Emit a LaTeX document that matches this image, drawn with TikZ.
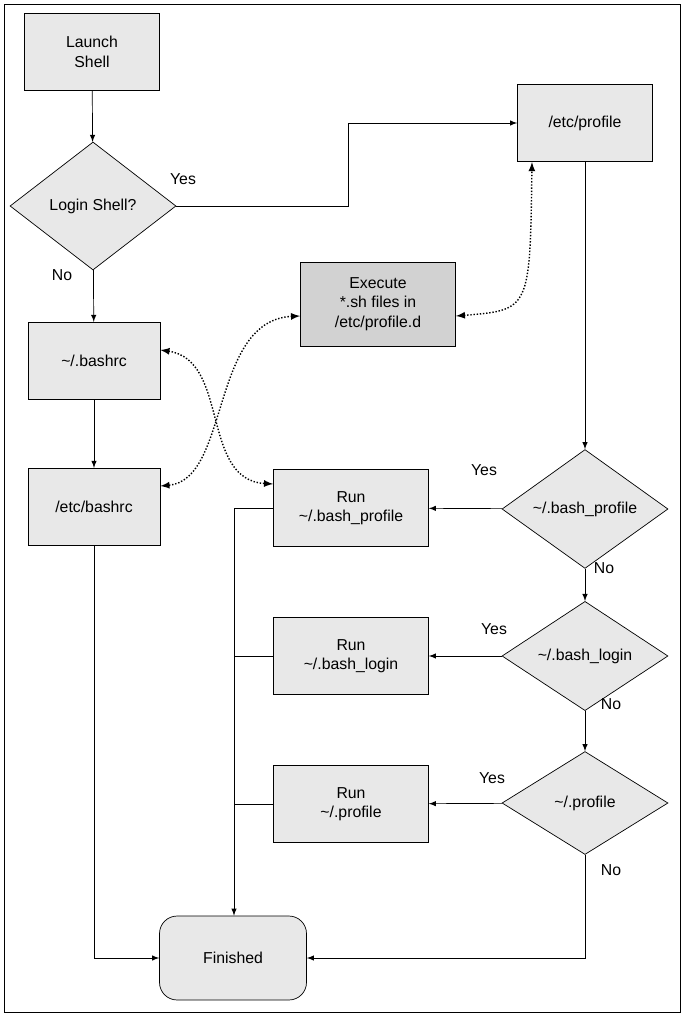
\documentclass[tikz,border=0pt]{standalone}
\usepackage{fontspec}
\setmainfont{Liberation Sans}
\usetikzlibrary{arrows,positioning,shapes}
\begin{document}
\begin{tikzpicture}[x=0.02cm,y=-0.02cm,>=latex,font=\fontsize{9}{11}\selectfont]
	\tikzstyle{rect}=[draw, rectangle, fill=gray!18, text centered, align=center, minimum width=2.7cm, minimum height=1.55cm]
	\tikzstyle{rect_w}=[rect, minimum width=3.1cm]
	\tikzstyle{dec}=[draw, diamond, fill=gray!18, inner sep=0pt, minimum width=3.32cm, minimum height=1.95cm]
	\tikzstyle{dots}=[<->, densely dotted, thick]

	\useasboundingbox (0,0) rectangle (685,1016);
	\draw (4,4) rectangle (680,1012);

	\node[rect] (launch) at (92,52) {Launch\\Shell};
	\node[dec, minimum height=2.56cm] (login) at (93,206) {Login Shell?};
	\node[rect] (prof) at (585,123) {/etc/profile};
	\node[rect_w, fill=gray!35, minimum height=1.68cm] (exec) at (378,304) {Execute\\*.sh files in\\/etc/profile.d};
	\node[rect, minimum width=2.64cm] (bashrc) at (94,361) {\textasciitilde/.bashrc};
	\node[rect, minimum width=2.64cm] (ebashrc) at (94,507) {/etc/bashrc};
	\node[rect_w] (rbp) at (351,508) {Run\\\textasciitilde/.bash\_profile};
	\node[dec] (dbp) at (585,509) {\textasciitilde/.bash\_profile};
	\node[rect_w] (rbl) at (351,656) {Run\\\textasciitilde/.bash\_login};
	\node[dec, minimum height=2.1cm] (dbl) at (585,656) {\textasciitilde/.bash\_login};
	\node[rect_w] (rpr) at (351,804) {Run\\\textasciitilde/.profile};
	\node[dec, minimum height=2.06cm] (dpr) at (585,803) {\textasciitilde/.profile};
	\node[draw, rounded corners=10pt, fill=gray!18, minimum width=2.94cm, minimum height=1.68cm] (fin) at (233,958) {Finished};
	\coordinate (join) at (234,508);

	\draw[->] (launch) -- (login);
	\draw[->] (login.east) -- (348,206) |- (prof.west);
	\draw[->] (login) -- (bashrc);
	\draw[->] (bashrc) -- (ebashrc);
	\draw[->] (prof) -- (dbp);
	\draw[->] (dbp) -- (rbp);
	\draw[->] (dbp) -- (dbl);
	\draw[->] (dbl) -- (rbl);
	\draw[->] (dbl) -- (dpr);
	\draw[->] (dpr) -- (rpr);
	\draw[->] (dpr.south) |- (fin.east);
	\draw[->] (ebashrc.south) |- (fin.west);
	\draw (rbp.west) -- (join);
	\draw[->] (join) -- (join |- fin.north);
	\draw (rbl.west) -- (join |- rbl.west);
	\draw (rpr.west) -- (join |- rpr.west);

	\node at (183,179) {Yes};
	\node at (62,275) {No};
	\node at (484,470) {Yes};
	\node at (604,568) {No};
	\node at (494,629) {Yes};
	\node at (611,704) {No};
	\node at (492,778) {Yes};
	\node at (611,870) {No};

	\draw[dots] (exec.east |- 0,316) .. controls (530,310) .. (532,162);
	\draw[dots] (exec.west |- 0,316) .. controls (210,320) and (230,480) .. (ebashrc.east |- 0,486);
	\draw[dots] (bashrc.east |- 0,350) .. controls (230,360) and (200,480) .. (rbp.west |- 0,484);
\end{tikzpicture}
\end{document}
